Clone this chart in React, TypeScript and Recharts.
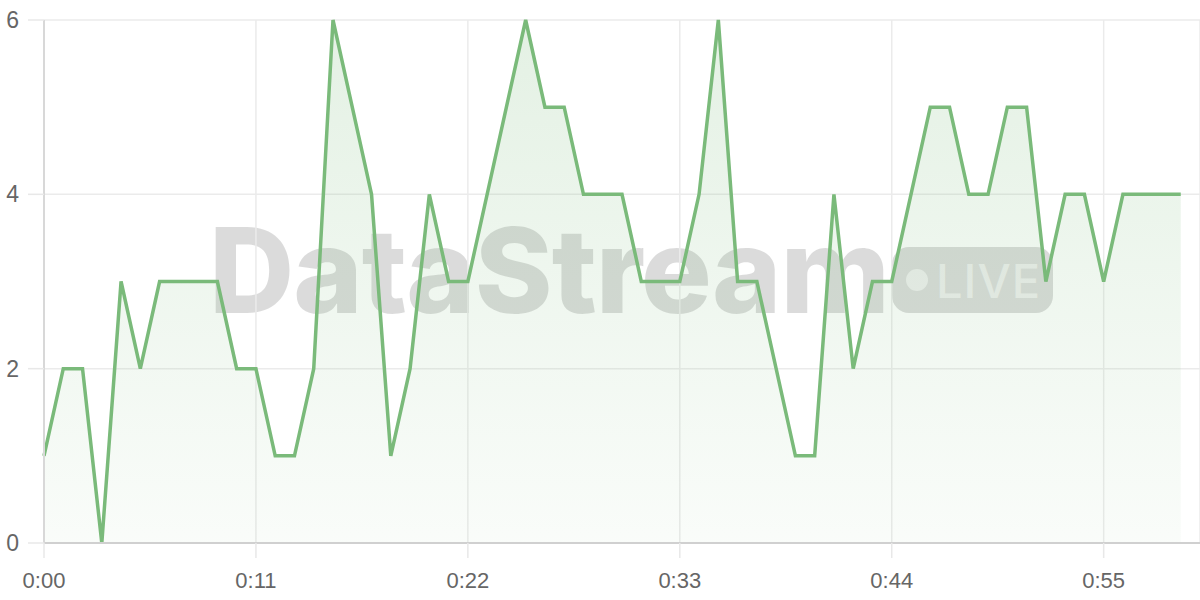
import React from "react";
import { AreaChart, Area, XAxis, YAxis, CartesianGrid } from "recharts";

const seconds: number[] = Array.from({ length: 60 }, (_, i) => i);
const activeValues: number[] = [
  1, 2, 2, 0, 3, 2, 3, 3, 3, 3,
  2, 2, 1, 1, 2, 6, 5, 4, 1, 2,
  4, 3, 3, 4, 5, 6, 5, 5, 4, 4,
  4, 3, 3, 3, 4, 6, 3, 3, 2, 1,
  1, 4, 2, 3, 3, 4, 5, 5, 4, 4,
  5, 5, 3, 4, 4, 3, 4, 4, 4, 4,
];
const xTicks: number[] = [0, 11, 22, 33, 44, 55];
const yTicks: number[] = [0, 2, 4, 6];

const data = seconds.map((t, i) => ({ t, v: activeValues[i] }));

const fmt = (s: number) => `0:${String(s).padStart(2, "0")}`;

const tickStyle = { fill: "#666", fontSize: 22, fontFamily: "'Liberation Sans', Arial, sans-serif" };

export default function App() {
  return (
    <div style={{ position: "absolute", left: 0, top: 0, width: 1200, height: 600, background: "#fff" }}>
      <div
        style={{
          position: "absolute",
          left: 209,
          top: 200,
          height: 140,
          display: "flex",
          alignItems: "center",
          pointerEvents: "none",
        }}
      >
        <span
          style={{
            fontFamily: "Inter, 'Open Sans', sans-serif",
            fontWeight: 800,
            fontSize: 118,
            color: "rgba(0,0,0,0.14)",
            letterSpacing: -1,
            lineHeight: 1,
          }}
        >
          DataStream
        </span>
      </div>
      <div
        style={{
          position: "absolute",
          left: 892,
          top: 247,
          width: 161,
          height: 66,
          borderRadius: 17,
          background: "rgba(0,0,0,0.14)",
          display: "flex",
          alignItems: "center",
          pointerEvents: "none",
        }}
      >
        <div
          style={{
            width: 22,
            height: 22,
            borderRadius: 11,
            background: "rgba(255,255,255,0.55)",
            marginLeft: 14,
            marginRight: 8,
          }}
        />
        <span
          style={{
            fontFamily: "Inter, 'Open Sans', sans-serif",
            fontWeight: 500,
            fontSize: 47,
            color: "rgba(255,255,255,0.55)",
            lineHeight: 1,
            letterSpacing: 1,
          }}
        >
          LIVE
        </span>
      </div>
      <AreaChart width={1200} height={600} data={data} margin={{ top: 20, right: 0, left: 0, bottom: 0 }}>
        <defs>
          <linearGradient id="fillGrad" x1="0" y1="0" x2="0" y2="1">
            <stop offset="0%" stopColor="#7aba7a" stopOpacity={0.34} />
            <stop offset="100%" stopColor="#7aba7a" stopOpacity={0.07} />
          </linearGradient>
        </defs>
        <CartesianGrid stroke="#ebebeb" strokeWidth={1.5} vertical horizontal />
        <XAxis
          dataKey="t"
          type="number"
          domain={[0, 60]}
          ticks={xTicks}
          tickFormatter={fmt}
          height={57}
          tickSize={15}
          tickMargin={14}
          tick={tickStyle}
          axisLine={{ stroke: "#d0d0d0", strokeWidth: 2 }}
          tickLine={{ stroke: "#e8e8e8", strokeWidth: 1.5 }}
        />
        <YAxis
          domain={[0, 6]}
          ticks={yTicks}
          width={44}
          tickSize={16}
          tickMargin={9}
          tick={{ ...tickStyle, fontSize: 23 }}
          axisLine={{ stroke: "#d8d8d8", strokeWidth: 2 }}
          tickLine={{ stroke: "#e8e8e8", strokeWidth: 1.5 }}
        />
        <Area
          type="linear"
          dataKey="v"
          stroke="#7aba7a"
          strokeWidth={3.5}
          fill="url(#fillGrad)"
          isAnimationActive={false}
          dot={false}
          activeDot={false}
        />
      </AreaChart>
    </div>
  );
}
